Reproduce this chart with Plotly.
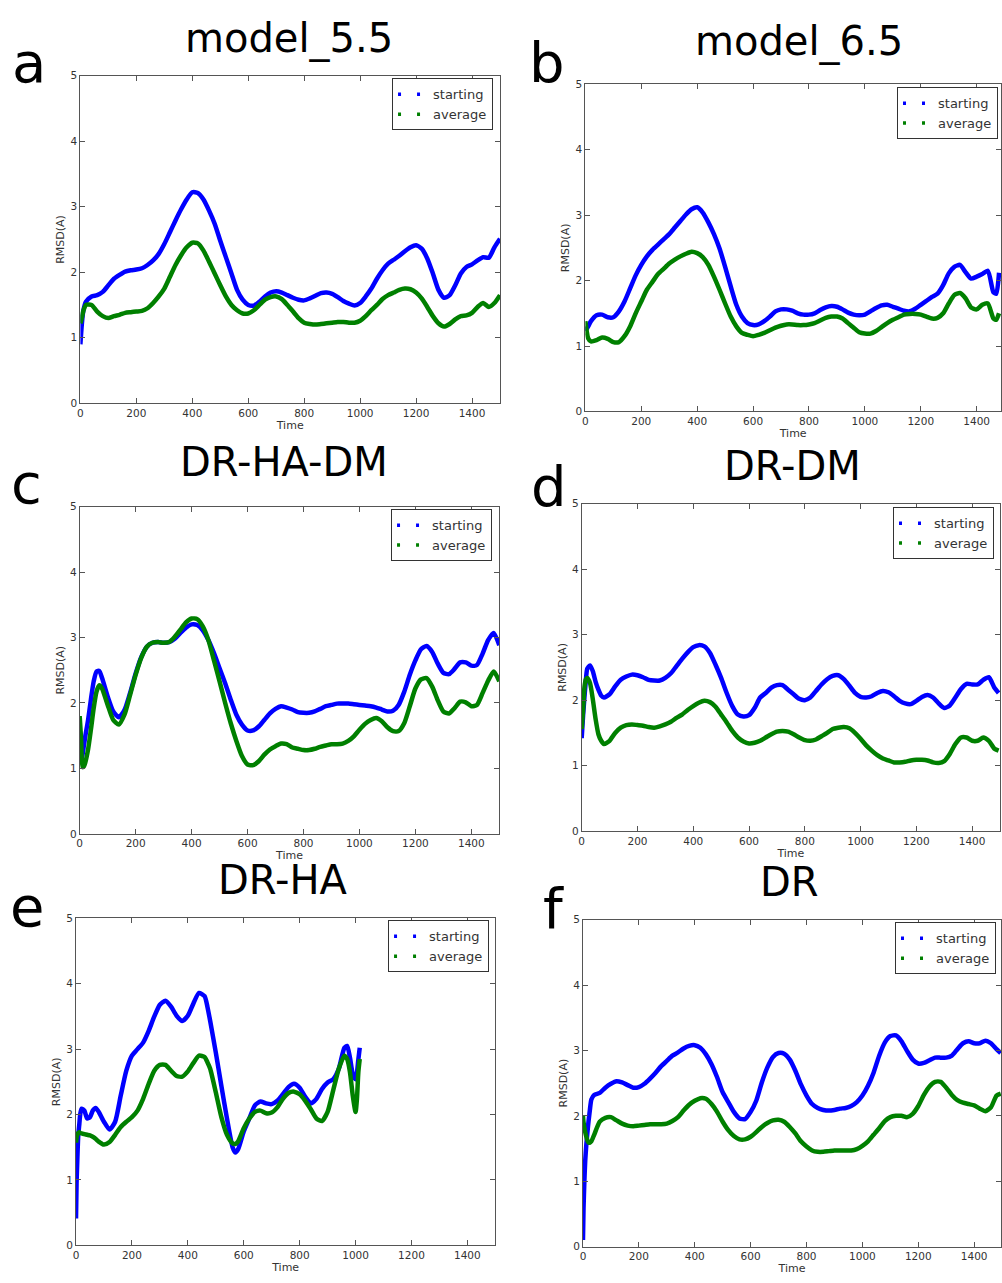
import plotly.graph_objects as go

W, H = 1002, 1283

# ---------------- data ----------------
# a: model_5.5
time_a = [0, 5, 10] + list(range(20, 1501, 20))
start_a = [0.90, 1.20, 1.40,
           1.55, 1.63, 1.65, 1.70, 1.80, 1.90, 1.96, 2.01, 2.03, 2.04,
           2.06, 2.11, 2.18, 2.28, 2.43, 2.61, 2.79, 2.96, 3.11, 3.22,
           3.21, 3.11, 2.94, 2.74, 2.48, 2.23, 1.98, 1.73, 1.58, 1.50,
           1.49, 1.55, 1.63, 1.69, 1.71, 1.69, 1.65, 1.61, 1.58, 1.57,
           1.60, 1.64, 1.68, 1.69, 1.67, 1.62, 1.56, 1.52, 1.49, 1.53,
           1.63, 1.75, 1.90, 2.03, 2.13, 2.19, 2.25, 2.32, 2.38, 2.41,
           2.36, 2.21, 1.98, 1.73, 1.61, 1.65, 1.80, 1.98, 2.08, 2.12,
           2.18, 2.23, 2.22, 2.38, 2.51]
avg_a = [1.22, 1.30, 1.40,
         1.50, 1.50, 1.40, 1.33, 1.30, 1.33, 1.35, 1.38, 1.39, 1.40,
         1.41, 1.45, 1.53, 1.63, 1.75, 1.93, 2.11, 2.26, 2.38, 2.45,
         2.44, 2.33, 2.16, 1.98, 1.80, 1.63, 1.50, 1.42, 1.37, 1.37,
         1.42, 1.50, 1.58, 1.62, 1.63, 1.59, 1.50, 1.40, 1.30, 1.23,
         1.21, 1.20, 1.21, 1.22, 1.23, 1.24, 1.24, 1.23, 1.23, 1.26,
         1.33, 1.42, 1.50, 1.59, 1.65, 1.69, 1.73, 1.75, 1.74, 1.69,
         1.60, 1.47, 1.33, 1.22, 1.17, 1.21, 1.28, 1.33, 1.34, 1.38,
         1.47, 1.53, 1.47, 1.53, 1.65]

# b: model_6.5
time_b = [0, 10] + list(range(20, 1401, 20)) + [1420, 1440, 1460, 1470, 1480]
start_b = [1.23, 1.30,
           1.38, 1.47, 1.48, 1.44, 1.44, 1.53, 1.68, 1.88, 2.08, 2.24,
           2.37, 2.47, 2.55, 2.63, 2.71, 2.81, 2.91, 3.01, 3.09, 3.12,
           3.04, 2.89, 2.71, 2.49, 2.21, 1.91, 1.63, 1.45, 1.35, 1.32,
           1.33, 1.38, 1.45, 1.53, 1.56, 1.56, 1.54, 1.50, 1.48, 1.48,
           1.50, 1.55, 1.59, 1.61, 1.60, 1.56, 1.51, 1.48, 1.47, 1.48,
           1.53, 1.58, 1.62, 1.63, 1.60, 1.57, 1.54, 1.53, 1.57, 1.63,
           1.69, 1.75, 1.80, 1.93, 2.11, 2.21, 2.24, 2.13, 2.03, 2.06,
           2.10, 2.15, 1.82, 1.80, 2.12]
avg_b = [1.38, 1.12,
         1.07, 1.09, 1.13, 1.11, 1.06, 1.06, 1.15, 1.30, 1.50, 1.68,
         1.86, 1.98, 2.10, 2.18, 2.26, 2.32, 2.37, 2.41, 2.44, 2.42,
         2.36, 2.24, 2.06, 1.86, 1.65, 1.45, 1.30, 1.20, 1.17, 1.15,
         1.17, 1.20, 1.24, 1.28, 1.31, 1.33, 1.33, 1.32, 1.32, 1.33,
         1.35, 1.39, 1.43, 1.45, 1.45, 1.42, 1.35, 1.28, 1.21, 1.19,
         1.19, 1.23, 1.29, 1.35, 1.40, 1.44, 1.48, 1.49, 1.49, 1.48,
         1.45, 1.42, 1.43, 1.50, 1.65, 1.78, 1.81, 1.73, 1.59, 1.56,
         1.63, 1.65, 1.42, 1.40, 1.50]

# c: DR-HA-DM
time_c = [0, 5, 10, 15, 20, 30, 40, 50, 60, 70, 80] + list(range(100, 1501, 20))
start_c = [1.15, 1.13, 1.21, 1.35, 1.49, 1.74, 2.05, 2.33, 2.48, 2.49, 2.38,
           2.10, 1.87, 1.78, 1.89, 2.15, 2.45, 2.70, 2.86, 2.92, 2.93,
           2.92, 2.93, 2.98, 3.07, 3.15, 3.20, 3.19, 3.11, 2.96, 2.76,
           2.53, 2.30, 2.05, 1.82, 1.67, 1.58, 1.58, 1.64, 1.74, 1.84,
           1.91, 1.95, 1.93, 1.90, 1.86, 1.85, 1.85, 1.87, 1.91, 1.95,
           1.97, 1.99, 1.99, 1.99, 1.98, 1.97, 1.96, 1.95, 1.93, 1.90,
           1.87, 1.88, 1.97, 2.17, 2.43, 2.65, 2.82, 2.87, 2.78, 2.60,
           2.46, 2.44, 2.52, 2.62, 2.62, 2.57, 2.58, 2.75, 2.96, 3.07,
           2.88]
avg_c = [1.80, 1.45, 1.02, 1.03, 1.09, 1.29, 1.59, 1.92, 2.17, 2.27, 2.22,
         1.97, 1.74, 1.67, 1.82, 2.12, 2.43, 2.69, 2.86, 2.92, 2.93,
         2.92, 2.93, 3.01, 3.12, 3.23, 3.29, 3.28, 3.17, 2.96, 2.65,
         2.33, 2.00, 1.69, 1.42, 1.19, 1.06, 1.05, 1.11, 1.21, 1.29,
         1.34, 1.38, 1.37, 1.32, 1.30, 1.28, 1.28, 1.30, 1.33, 1.35,
         1.37, 1.37, 1.38, 1.42, 1.49, 1.59, 1.68, 1.74, 1.77, 1.72,
         1.63, 1.57, 1.57, 1.69, 1.95, 2.22, 2.36, 2.38, 2.25, 2.04,
         1.87, 1.84, 1.92, 2.02, 2.01, 1.95, 1.97, 2.15, 2.34, 2.48,
         2.33]

# d: DR-DM
time_d = [0, 5, 10, 15, 20, 30, 40, 50, 60, 70, 80] + list(range(100, 1481, 20)) + [1495]
start_d = [1.42, 1.76, 2.05, 2.30, 2.48, 2.53, 2.44, 2.28, 2.16, 2.07, 2.04,
           2.09, 2.21, 2.31, 2.36, 2.39, 2.38, 2.35, 2.31, 2.30, 2.30,
           2.34, 2.41, 2.52, 2.63, 2.73, 2.81, 2.84, 2.82, 2.72, 2.54,
           2.34, 2.11, 1.91, 1.78, 1.75, 1.77, 1.88, 2.04, 2.11, 2.19,
           2.23, 2.23, 2.16, 2.09, 2.02, 2.00, 2.04, 2.14, 2.24, 2.32,
           2.37, 2.38, 2.32, 2.22, 2.11, 2.05, 2.04, 2.06, 2.11, 2.14,
           2.12, 2.06, 1.99, 1.95, 1.94, 1.99, 2.05, 2.08, 2.04, 1.95,
           1.88, 1.92, 2.04, 2.17, 2.25, 2.24, 2.24, 2.31, 2.35, 2.19,
           2.11]
avg_d = [1.56, 1.85, 2.20, 2.32, 2.34, 2.26, 2.01, 1.71, 1.48, 1.38, 1.33,
         1.38, 1.50, 1.58, 1.62, 1.63, 1.62, 1.61, 1.59, 1.58, 1.60,
         1.63, 1.67, 1.73, 1.78, 1.85, 1.91, 1.96, 1.99, 1.97, 1.90,
         1.78, 1.66, 1.53, 1.43, 1.37, 1.34, 1.35, 1.38, 1.43, 1.48,
         1.52, 1.53, 1.52, 1.48, 1.43, 1.39, 1.38, 1.40, 1.45, 1.50,
         1.56, 1.58, 1.59, 1.57, 1.50, 1.41, 1.31, 1.23, 1.16, 1.11,
         1.08, 1.05, 1.05, 1.06, 1.08, 1.09, 1.09, 1.08, 1.05, 1.04,
         1.07, 1.18, 1.33, 1.43, 1.43, 1.38, 1.38, 1.43, 1.38, 1.26,
         1.23]

# e: DR-HA
time_e = ([0, 2, 5, 8, 12, 15, 20, 30, 40, 50, 60, 70, 80]
          + list(range(100, 461, 20)) + [470, 480, 500, 520, 540, 560, 570]
          + list(range(580, 961, 20)) + [970, 980, 990, 1000, 1005, 1010, 1015])
start_e = [0.41, 0.95, 1.35, 1.68, 1.86, 2.00, 2.09, 2.06, 1.94, 1.96, 2.06, 2.10, 2.05,
           1.89, 1.77, 1.89, 2.29, 2.67, 2.90, 3.00, 3.10, 3.28, 3.50,
           3.68, 3.74, 3.65, 3.51, 3.43, 3.51, 3.70, 3.86, 3.81,
           3.65, 3.43, 2.95, 2.44, 1.94, 1.50, 1.42,
           1.47, 1.74, 1.94, 2.14, 2.20, 2.17, 2.16, 2.21, 2.31, 2.42,
           2.47, 2.41, 2.27, 2.17, 2.24, 2.39, 2.49, 2.54, 2.70, 3.02,
           3.05, 2.87, 2.62, 2.54, 2.64, 2.84, 3.02]
avg_e = [1.57, 1.65, 1.70, 1.72, 1.73, 1.72, 1.71, 1.70, 1.69, 1.68, 1.66, 1.63, 1.59,
         1.54, 1.58, 1.69, 1.81, 1.89, 1.96, 2.06, 2.24, 2.47, 2.67,
         2.76, 2.76, 2.67, 2.59, 2.58, 2.66, 2.79, 2.90, 2.88,
         2.80, 2.70, 2.34, 1.96, 1.69, 1.56, 1.55,
         1.59, 1.79, 1.94, 2.04, 2.06, 2.02, 2.03, 2.11, 2.24, 2.33,
         2.35, 2.31, 2.21, 2.08, 1.94, 1.90, 2.04, 2.37, 2.70, 2.90,
         2.85, 2.65, 2.29, 2.04, 2.24, 2.65, 2.85]

# f: DR
time_f = [0, 2, 5, 8, 12, 16, 20, 25, 30, 40] + list(range(60, 1481, 20)) + [1495]
start_f = [0.10, 0.59, 1.00, 1.31, 1.56, 1.75, 1.92, 2.10, 2.25, 2.32,
           2.35, 2.43, 2.49, 2.53, 2.51, 2.47, 2.43, 2.44, 2.49, 2.57,
           2.66, 2.76, 2.84, 2.92, 2.97, 3.03, 3.07, 3.08, 3.04, 2.94,
           2.79, 2.59, 2.36, 2.21, 2.06, 1.96, 1.95, 2.06, 2.23, 2.51,
           2.74, 2.90, 2.96, 2.95, 2.86, 2.69, 2.48, 2.31, 2.18, 2.12,
           2.09, 2.08, 2.09, 2.11, 2.12, 2.15, 2.21, 2.31, 2.46, 2.66,
           2.92, 3.12, 3.22, 3.23, 3.14, 2.99, 2.86, 2.80, 2.81, 2.85,
           2.89, 2.89, 2.89, 2.92, 3.02, 3.11, 3.14, 3.11, 3.11, 3.15,
           3.11, 3.02,
           2.96]
avg_f = [2.00, 1.90, 1.82, 1.75, 1.68, 1.62, 1.59, 1.59, 1.61, 1.71,
         1.91, 1.97, 1.98, 1.93, 1.88, 1.85, 1.84, 1.85, 1.86, 1.87,
         1.87, 1.87, 1.88, 1.92, 1.98, 2.08, 2.17, 2.23, 2.27, 2.26,
         2.18, 2.06, 1.91, 1.78, 1.69, 1.64, 1.64, 1.68, 1.75, 1.83,
         1.89, 1.93, 1.94, 1.91, 1.83, 1.73, 1.61, 1.53, 1.47, 1.45,
         1.45, 1.46, 1.47, 1.47, 1.47, 1.47, 1.49, 1.54, 1.61, 1.71,
         1.81, 1.92, 1.98, 2.00, 2.00, 1.98, 2.03, 2.15, 2.32, 2.45,
         2.52, 2.52, 2.43, 2.32, 2.24, 2.20, 2.18, 2.16, 2.11, 2.07,
         2.13, 2.31,
         2.34]

titles = ["model_5.5", "model_6.5", "DR-HA-DM", "DR-DM", "DR-HA", "DR"]
letters = ["a", "b", "c", "d", "e", "f"]
series_names = ["starting", "average"]
x_ticks = [0, 200, 400, 600, 800, 1000, 1200, 1400]
y_ticks = [0, 1, 2, 3, 4, 5]

data = [(time_a, start_a, avg_a), (time_b, start_b, avg_b), (time_c, start_c, avg_c),
        (time_d, start_d, avg_d), (time_e, start_e, avg_e), (time_f, start_f, avg_f)]

for t, s, a in data:
    assert len(t) == len(s) == len(a), (len(t), len(s), len(a))

# ---------------- layout geometry (pixels) ----------------
# x0, x1, ytop, ybottom, xmax
boxes = [
    (77.7, 499.0, 70.3, 401.0, 1500),
    (584.7, 1002.0, 79.0, 409.3, 1487),
    (77.0, 498.3, 505.3, 835.7, 1500),
    (581.0, 1001.0, 502.3, 833.0, 1500),
    (73.3, 494.3, 921.0, 1251.0, 1500),
    (582.3, 1002.0, 922.3, 1252.3, 1496),
]
# x-axis title standoff per panel
time_standoff = [2, 2, 0, 2, 2, 2]
# legend: right px, top px
legend_pos = [(492, 73), (999, 82), (491, 508), (995, 506), (488, 923), (997, 925)]
# title centre x px, centre y px
title_pos = [(287, 33), (799, 36), (282, 460), (793, 464), (281, 882), (790, 884)]
# letter centre x px, centre y px
letter_pos = [(26, 57), (546, 57), (24, 482), (548, 485), (24, 909), (553, 911)]

BLUE = "#0000ff"
GREEN = "#008000"
FONT = "DejaVu Sans"

fig = go.Figure()
layout = dict(width=W, height=H, margin=dict(l=0, r=0, t=0, b=0),
              paper_bgcolor="white", plot_bgcolor="white", showlegend=True,
              font=dict(family=FONT, color="#222"))
annotations = []

for i, ((t, s, a), (x0, x1, yt, yb, xmax)) in enumerate(zip(data, boxes)):
    n = i + 1
    xa = "x" if n == 1 else f"x{n}"
    ya = "y" if n == 1 else f"y{n}"
    lg = "legend" if n == 1 else f"legend{n}"
    for vals, col in ((s, BLUE), (a, GREEN)):
        fig.add_trace(go.Scatter(x=t, y=vals, mode="lines", xaxis=xa, yaxis=ya,
                                 line=dict(color=col, width=4.5, shape="spline", smoothing=0.6),
                                 showlegend=False, hoverinfo="skip"))
    for name, col in zip(series_names, (BLUE, GREEN)):
        fig.add_trace(go.Scatter(x=[None], y=[None], mode="lines", xaxis=xa, yaxis=ya,
                                 name=name, legend=lg,
                                 line=dict(color=col, width=3.5, dash="3px,16px")))
    axcommon = dict(showline=True, linecolor="#555", linewidth=1, mirror="allticks",
                    ticks="inside", ticklen=5, tickcolor="#555", tickwidth=1,
                    showgrid=False, zeroline=False,
                    tickfont=dict(family=FONT, size=10.5, color="#333"))
    xkey = "xaxis" if n == 1 else f"xaxis{n}"
    ykey = "yaxis" if n == 1 else f"yaxis{n}"
    layout[xkey] = dict(axcommon, domain=[x0 / W, x1 / W], range=[0, xmax],
                        tickvals=x_ticks, anchor=ya,
                        title=dict(text="Time", font=dict(family=FONT, size=11, color="#333"),
                                   standoff=time_standoff[i]))
    layout[ykey] = dict(axcommon, domain=[1 - yb / H, 1 - yt / H], range=[0, 5],
                        tickvals=y_ticks, anchor=xa,
                        title=dict(text="RMSD(A)", font=dict(family=FONT, size=11, color="#333"),
                                   standoff=3))
    lx, ly = legend_pos[i]
    layout[lg] = dict(x=lx / W, y=1 - ly / H, xanchor="right", yanchor="top",
                      bgcolor="white", bordercolor="#333", borderwidth=1,
                      font=dict(family=FONT, size=13, color="#333"),
                      itemwidth=30, tracegroupgap=0)
    tx, ty = title_pos[i]
    annotations.append(dict(text=titles[i], x=tx / W, y=1 - ty / H, xref="paper", yref="paper",
                            xanchor="center", yanchor="middle", showarrow=False,
                            font=dict(family=FONT, size=40, color="black")))
    cx, cy = letter_pos[i]
    annotations.append(dict(text=letters[i], x=cx / W, y=1 - cy / H, xref="paper", yref="paper",
                            xanchor="center", yanchor="middle", showarrow=False,
                            font=dict(family=FONT, size=56, color="black")))

layout["annotations"] = annotations
fig.update_layout(**layout)
fig.write_html("out.html")
